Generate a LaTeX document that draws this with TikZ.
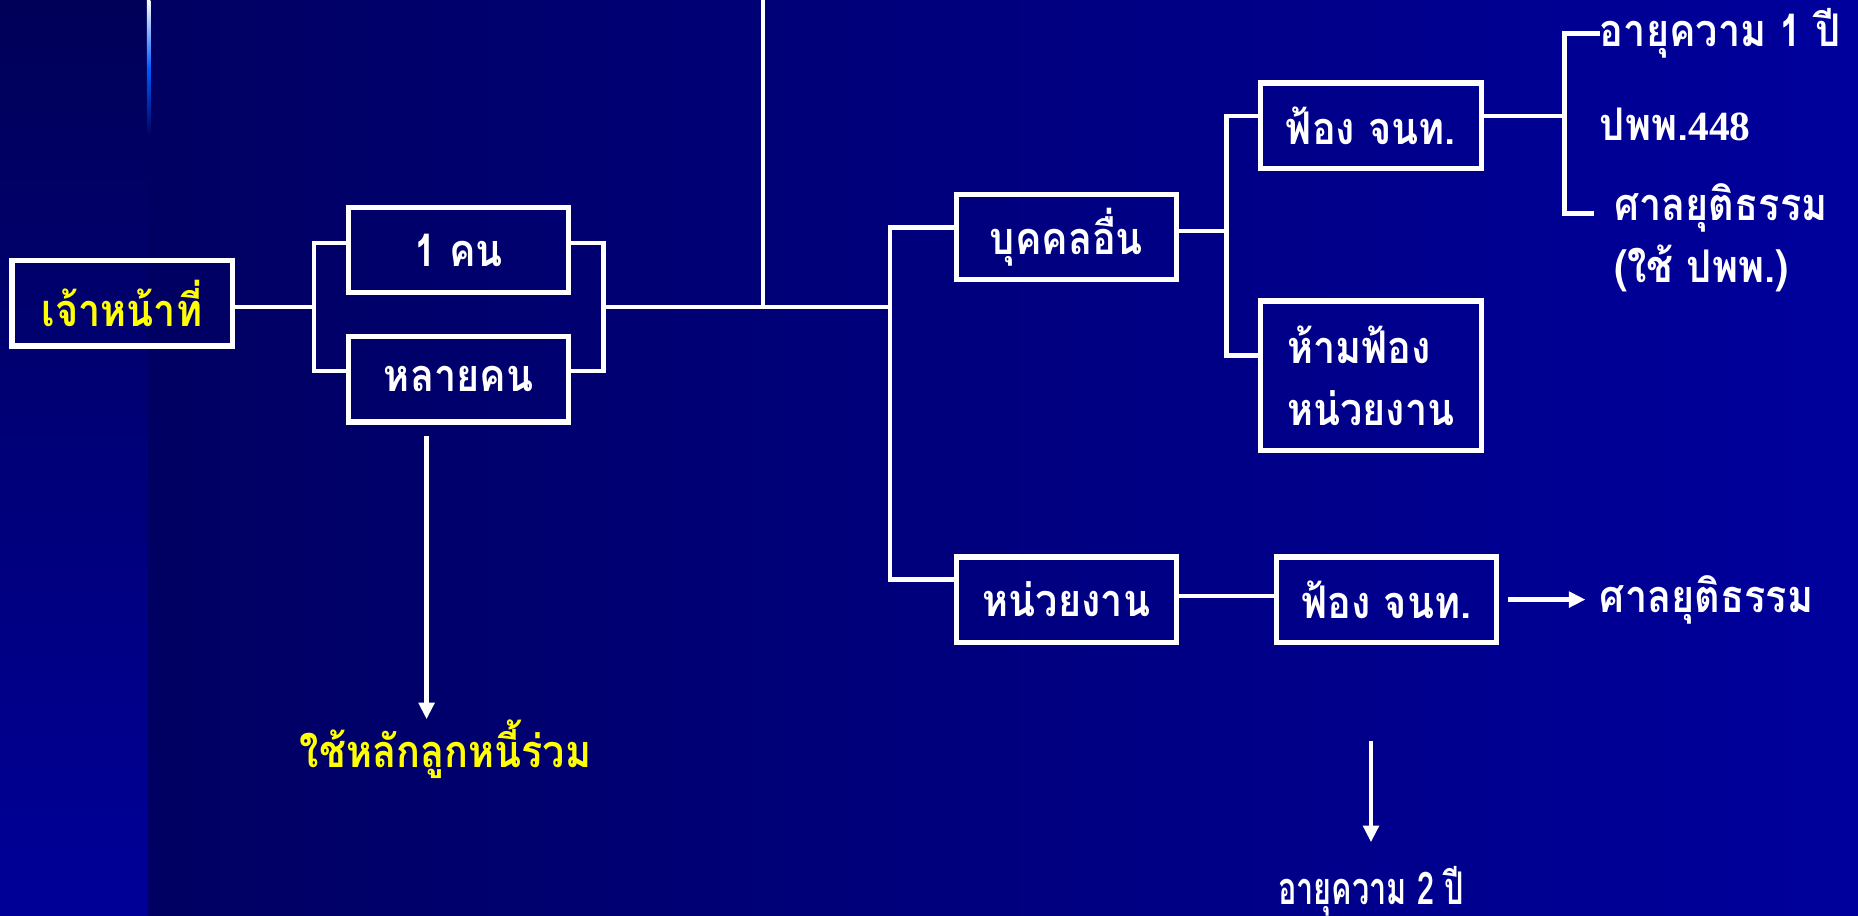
\documentclass[tikz,border=0pt]{standalone}
\usepackage{fontspec}
\usepackage{tikz}
\usetikzlibrary{arrows.meta, positioning}
\newfontfamily\thaifont[Script=Thai, FakeStretch=0.88]{Loma}
\newfontfamily\thainarrow[Script=Thai, FakeStretch=0.68]{Loma}
\newfontfamily\numfont{Liberation Serif}
\definecolor{bgleft}{RGB}{0,0,98}
\definecolor{bgright}{RGB}{0,0,156}
\definecolor{striptop}{RGB}{0,0,88}
\definecolor{stripbot}{RGB}{0,0,152}
\definecolor{glow}{RGB}{0,90,255}
\definecolor{gold}{RGB}{255,255,0}

\begin{document}
\begin{tikzpicture}[
        x=1pt, y=-1pt,
        every node/.style={text=white, font=\thaifont\bfseries\fontsize{38}{52}\selectfont},
        box/.style={draw=white, line width=4.5pt, minimum width=186pt, minimum height=72pt},
        link/.style={white, line width=4pt},
        arrow/.style={link, -{Triangle[length=14pt, width=13pt]}}
    ]
    \useasboundingbox (0,0) rectangle (1568,773);

    % Background
    \shade[left color=bgleft, right color=bgright] (125,0) rectangle (1568,773);
    \shade[top color=striptop, bottom color=stripbot] (0,0) rectangle (125,773);
    \shade[top color=white, bottom color=striptop, middle color=glow] (124,0) rectangle (127,115);

    % Nodes
    \node[box, text=gold] (officer) at (103,256) {เจ้าหน้าที่};
    \node[box] (one) at (387,211) {1 คน};
    \node[box] (many) at (387,320) {หลายคน};
    \node[box] (other) at (900,200) {บุคคลอื่น};
    \node[box] (agency) at (900,506) {หน่วยงาน};
    \node[box] (sue_top) at (1157,106) {ฟ้อง จนท.};
    \node[box, minimum height=126pt, align=left] (ban) at (1157,317) {ห้ามฟ้อง\\หน่วยงาน};
    \node[box] (sue_bot) at (1170,506) {ฟ้อง จนท.};
    \node[anchor=west, inner sep=0pt] (age1) at (1350,28) {อายุความ 1 ปี};
    \node[anchor=west, inner sep=0pt] (civil) at (1350,105) {ปพพ.{\numfont\fontsize{35}{40}\selectfont 448}};
    \node[anchor=north west, align=left, inner sep=0pt] (court_top) at (1362,155) {ศาลยุติธรรม\\(ใช้ ปพพ.)};
    \node[anchor=west, inner sep=0pt] (court_bot) at (1350,506) {ศาลยุติธรรม};
    \node[text=gold, inner sep=0pt] (joint) at (376,632) {ใช้หลักลูกหนี้ร่วม};
    \node[inner sep=0pt, font=\thainarrow\bfseries\fontsize{38}{52}\selectfont] (age2) at (1157,752) {อายุความ 2 ปี};

    % Junctions
    \coordinate (jl) at (265,259);
    \coordinate (jr) at (509,259);
    \coordinate (js) at (751,259);
    \coordinate (jt) at (644,0);
    \coordinate (jo) at (1035,195);
    \coordinate (jf) at (1320,98);
    \coordinate (court_in) at (1345,180);
    \coordinate (jtop) at (360,368);
    \coordinate (a2top) at (1157,625);

    % Connections
    \draw[link] (officer.east |- jl) -- (jl);
    \draw[link] ([yshift=6pt]one.west) -| (jl) |- ([yshift=7pt]many.west);
    \draw[link] ([yshift=6pt]one.east) -| (jr) |- ([yshift=7pt]many.east);
    \draw[link] (jr) -- (js);
    \draw[link] (jt) -- (jt |- jr);
    \draw[link] ([yshift=8pt]other.west) -| (js) |- ([yshift=17pt]agency.west);
    \draw[link] (other.east |- jo) -- (jo);
    \draw[link] ([yshift=8pt]sue_top.west) -| (jo) |- ([yshift=17pt]ban.west);
    \draw[link] ([yshift=8pt]sue_top.east) -- (jf);
    \draw[link] (age1.west) -| (jf) |- (court_in);
    \draw[link] ([yshift=3pt]agency.east) -- ([yshift=3pt]sue_bot.west);
    \draw[arrow, shorten <=7pt, shorten >=12pt] (sue_bot.east) -- (court_bot.west);
    \draw[arrow] (jtop) -- (jtop |- joint.north);
    \draw[arrow, shorten >=20pt] (a2top) -- (age2.north);

\end{tikzpicture}
\end{document}
